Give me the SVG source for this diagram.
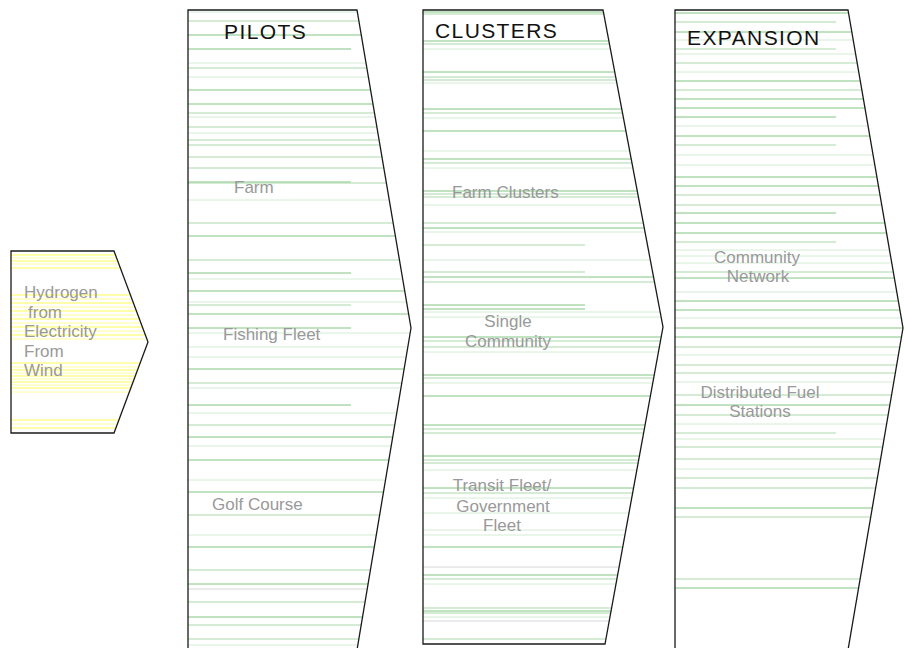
<svg xmlns="http://www.w3.org/2000/svg" width="904" height="648" viewBox="0 0 904 648">
<style>
.bg{fill:#fff}
.edge{fill:none;stroke:#1a1a1a;stroke-width:1.3}
.s{stroke:#84c684;stroke-width:1;fill:none}
.m{stroke:#aad7aa;stroke-width:1;fill:none}
.l{stroke:#d6ecd6;stroke-width:1;fill:none}
.g{stroke:#d6d6d6;stroke-width:1;fill:none}
.y1{stroke:#ffff55;stroke-width:1;fill:none}
.y2{stroke:#ffffa0;stroke-width:1;fill:none}
.title{font-family:"Liberation Sans",Arial,sans-serif;font-size:21px;letter-spacing:1.4px;fill:#111}
.lab{font-family:"Liberation Sans",Arial,sans-serif;font-size:17px;fill:#999}
.mid{text-anchor:middle}
</style>
<defs>
<clipPath id="cSrc"><polygon points="11,251 114,251 148,342 114,433 11,433"/></clipPath>
<clipPath id="cPil"><polygon points="188,10 357,10 411,328 357,650 188,650"/></clipPath>
<clipPath id="cClu"><polygon points="423,10 603,10 663,327 605,644 423,644"/></clipPath>
<clipPath id="cExp"><polygon points="675,10 848,10 903,328 848,650 675,650"/></clipPath>
</defs>
<rect class="bg" x="0" y="0" width="904" height="648"/>

<g id="source">
<g clip-path="url(#cSrc)">
<path class="y1" d="M11 255H150M11 261H150M11 268H150M11 295H150M11 303H150M11 311H150M11 319H150M11 327H150M11 335H150M11 363H150M11 370H150M11 376H150M11 382H150M11 388H150M11 420H150M11 428H150"/>
<path class="y2" d="M11 258H150M11 264H150M11 299H150M11 307H150M11 315H150M11 323H150M11 331H150M11 339H150M11 367H150M11 373H150M11 379H150M11 385H150M11 392H150M11 424H150"/>
</g>
<polygon class="edge" points="11,251 114,251 148,342 114,433 11,433"/>
<text class="lab" x="24" y="298">Hydrogen</text>
<text class="lab" x="28" y="318">from</text>
<text class="lab" x="24" y="337">Electricity</text>
<text class="lab" x="24" y="357">From</text>
<text class="lab" x="24" y="376">Wind</text>
</g>

<g id="pilots">
<g clip-path="url(#cPil)">
<path class="s" d="M188 35H420M188 90H420M188 104H420M188 236H420M188 291H420M188 314H420M188 369H420M188 437H420M188 460H420M188 492H420M188 547H420M188 584H420M188 617H420M188 49H351M188 182H351M188 273H351M188 328H351M188 405H351"/>
<path class="m" d="M188 21H420M188 68H420M188 113H420M188 127H420M188 140H420M188 145H420M188 157H420M188 168H420M188 183H420M188 223H420M188 260H420M188 383H420M188 425H420M188 515H420M188 570H420M188 602H420M188 625H420M188 639H420M188 305H351"/>
<path class="l" d="M188 12H420M188 63H420M188 77H420M188 117H420M188 133H420M188 200H420M188 279H420M188 302H420M188 333H420M188 347H420M188 357H420M188 388H420M188 413H420M188 446H420M188 480H420M188 535H420M188 645H420"/>
<path class="g" d="M188 589H420"/>
</g>
<polyline class="edge" points="188,650 188,10 357,10 411,328 357,650"/>
<text class="title" x="224" y="39">PILOTS</text>
<text class="lab" x="234" y="193">Farm</text>
<text class="lab" x="223" y="340">Fishing Fleet</text>
<text class="lab" x="212" y="510">Golf Course</text>
</g>

<g id="clusters">
<g clip-path="url(#cClu)">
<path class="s" d="M423 12H670M423 41H670M423 72H670M423 109H670M423 131H670M423 159H670M423 191H670M423 228H670M423 277H670M423 337H670M423 375H670M423 396H670M423 425H670M423 456H670M423 488H670M423 547H670M423 575H670M423 611H670M423 305H585M423 309H585"/>
<path class="m" d="M423 14H670M423 44H670M423 77H670M423 80H670M423 113H670M423 163H670M423 194H670M423 197H670M423 223H670M423 282H670M423 341H670M423 347H670M423 378H670M423 429H670M423 433H670M423 460H670M423 463H670M423 493H670M423 579H670M423 608H670M423 613H670M423 639H670M423 245H585M423 272H585"/>
<path class="l" d="M423 49H670M423 83H670M423 118H670M423 151H670M423 168H670M423 205H670M423 232H670M423 260H670M423 312H670M423 317H670M423 352H670M423 383H670M423 470H670M423 498H670M423 513H670M423 530H670M423 535H670M423 584H670M423 617H670"/>
<path class="g" d="M423 567H670M423 621H670"/>
</g>
<polygon class="edge" points="423,10 603,10 663,327 605,644 423,644"/>
<text class="title" x="435" y="38">CLUSTERS</text>
<text class="lab" x="452" y="198">Farm Clusters</text>
<text class="lab mid" x="508" y="327">Single</text>
<text class="lab mid" x="508" y="347">Community</text>
<text class="lab mid" x="502" y="491">Transit Fleet/</text>
<text class="lab mid" x="503" y="512">Government</text>
<text class="lab mid" x="502" y="531">Fleet</text>
</g>

<g id="expansion">
<g clip-path="url(#cExp)">
<path class="s" d="M675 13H910M675 32H910M675 81H910M675 99H910M675 108H910M675 136H910M675 177H910M675 186H910M675 223H910M675 233H910M675 278H910M675 301H910M675 310H910M675 328H910M675 337H910M675 405H910M675 508H910M675 588H910M675 117H836M675 213H836"/>
<path class="m" d="M675 63H910M675 90H910M675 195H910M675 205H910M675 272H910M675 347H910M675 365H910M675 373H910M675 395H910M675 415H910M675 447H910M675 459H910M675 478H910M675 488H910M675 517H910M675 579H910M675 22H836M675 49H836M675 145H836M675 242H836M675 433H836"/>
<path class="l" d="M675 40H910M675 54H910M675 72H910M675 126H910M675 155H910M675 165H910M675 250H910M675 256H910M675 263H910M675 292H910M675 318H910M675 355H910M675 382H910M675 424H910M675 439H910M675 469H910"/>
</g>
<polyline class="edge" points="675,650 675,10 848,10 903,328 848,650"/>
<text class="title" x="687" y="45">EXPANSION</text>
<text class="lab mid" x="757" y="263">Community</text>
<text class="lab mid" x="758" y="282">Network</text>
<text class="lab mid" x="760" y="398">Distributed Fuel</text>
<text class="lab mid" x="760" y="417">Stations</text>
</g>

<g id="connectors"></g>
</svg>
